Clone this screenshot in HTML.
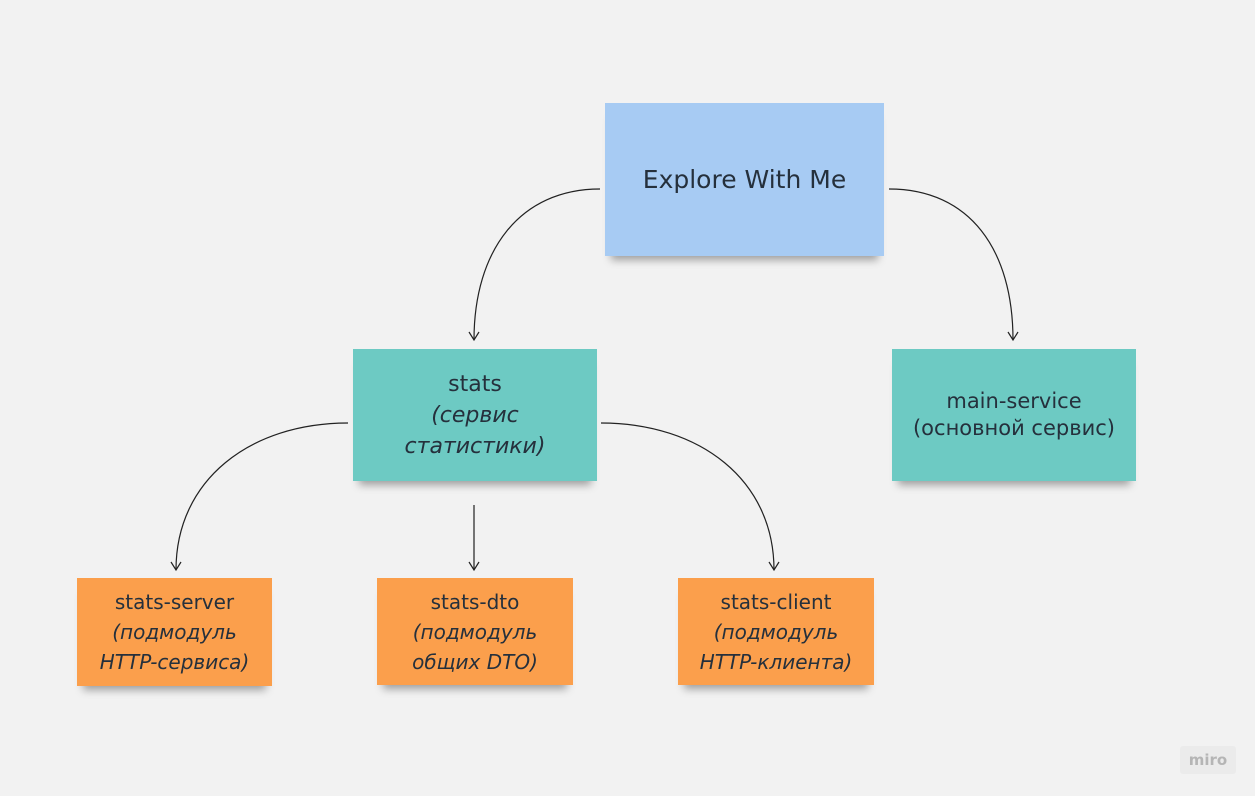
<!DOCTYPE html>
<html><head><meta charset="utf-8"><style>
body{margin:0;width:1255px;height:796px;background:#f2f2f2;position:relative;overflow:hidden;font-family:"DejaVu Sans","Liberation Sans",sans-serif;color:#25303c}
.n{position:absolute;display:flex;flex-direction:column;align-items:center;justify-content:center;text-align:center;box-shadow:0 10px 8px -6px rgba(0,0,0,0.35)}
.b{background:#a7cbf3}.t{background:#6dcac3}.o{background:#fb9f4c}
i{font-style:italic}
</style></head><body>
<svg width="1255" height="796" style="position:absolute;left:0;top:0" fill="none" stroke="#222" stroke-width="1.2">
<path d="M600 189 C520 189 474 250 474 340"/><path d="M469 332 L474 340 L479 332"/>
<path d="M889 189 C970 189 1013 250 1013 340"/><path d="M1008 332 L1013 340 L1018 332"/>
<path d="M348 423 C250 423 176 480 176 570"/><path d="M171 562 L176 570 L181 562"/>
<path d="M474 505 L474 570"/><path d="M469 562 L474 570 L479 562"/>
<path d="M601 423 C700 423 774 480 774 570"/><path d="M769 562 L774 570 L779 562"/>
</svg>
<div class="n b" style="left:605px;top:103px;width:279px;height:153px;font-size:25px">Explore With Me</div>
<div class="n t" style="left:353px;top:349px;width:244px;height:132px;font-size:22px;line-height:31px">stats<i>(сервис</i><i>статистики)</i></div>
<div class="n t" style="left:892px;top:349px;width:244px;height:132px;font-size:21px;line-height:27px">main-service<span>(основной сервис)</span></div>
<div class="n o" style="left:77px;top:578px;width:195px;height:108px;font-size:20px;line-height:30px">stats-server<i>(подмодуль</i><i>HTTP-сервиса)</i></div>
<div class="n o" style="left:377px;top:578px;width:196px;height:107px;font-size:20px;line-height:30px">stats-dto<i>(подмодуль</i><i>общих DTO)</i></div>
<div class="n o" style="left:678px;top:578px;width:196px;height:107px;font-size:20px;line-height:30px">stats-client<i>(подмодуль</i><i>HTTP-клиента)</i></div>
<div style="position:absolute;left:1180px;top:746px;width:56px;height:28px;background:#ebebeb;border-radius:3px;color:#b5b5b5;font-size:15px;font-weight:bold;text-align:center;line-height:28px">miro</div>
</body></html>
